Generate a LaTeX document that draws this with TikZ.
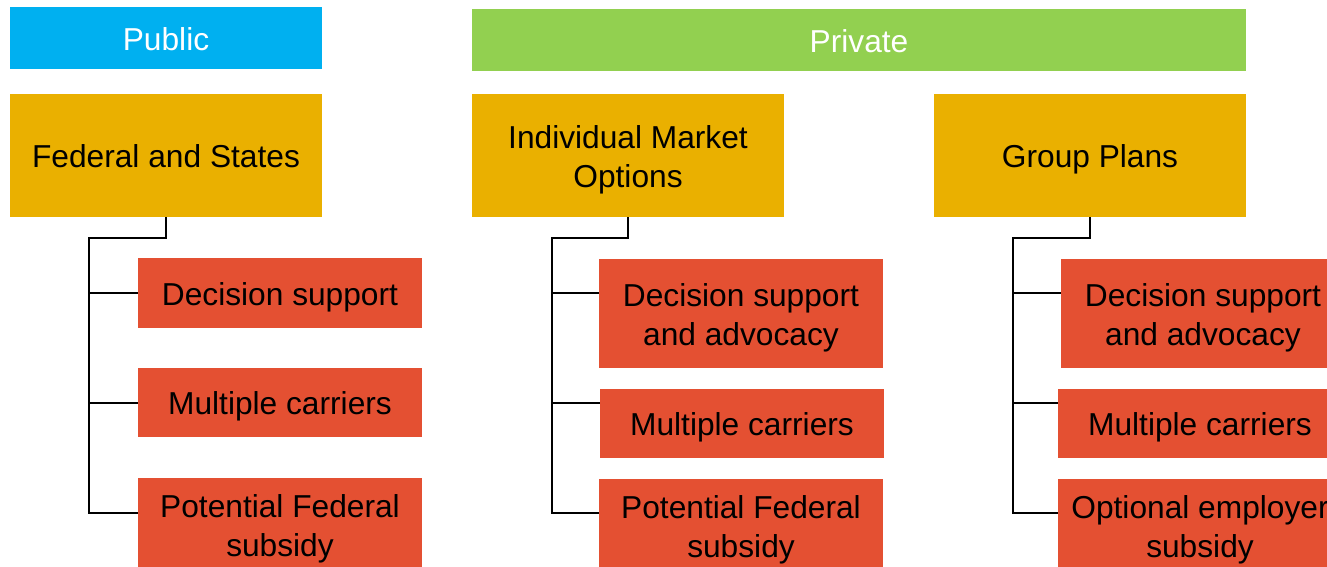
\documentclass[tikz,border=0pt]{standalone}
\usepackage{fontspec}
\setmainfont{Liberation Sans}

\definecolor{pubblue}{HTML}{00B0F0}
\definecolor{privgreen}{HTML}{92D050}
\definecolor{plangold}{HTML}{EAB000}
\definecolor{featred}{HTML}{E45032}

\tikzset{
  box/.style={rectangle, inner sep=0pt, align=flush center,
    font=\fontsize{31.7}{39}\selectfont,
    execute at begin node={\rule{0pt}{31pt}},
    execute at end node={\rule[-7pt]{0pt}{0pt}}},
  head/.style={box, fill=#1, text=white, minimum height=62},
  plan/.style={box, fill=plangold, text width=312, minimum height=123},
  feat/.style={box, fill=featred, text width=284},
  branch/.style={black, line width=2.5pt}
}

\begin{document}
\begin{tikzpicture}[x=1pt, y=-1pt]
        \path[use as bounding box, clip] (0,0) rectangle (1327,566);

        % headers
        \node[head=pubblue, text width=312] (public) at (166,38) {Public};
        \node[head=privgreen, text width=774] (private) at (859,40) {Private};

        % plans
        \node[plan] (fed) at (166,155.5) {Federal and States};
        \node[plan] (ind) at (628,155.5) {Individual Market\\Options};
        \node[plan] (grp) at (1090,155.5) {Group Plans};

        % features
        \node[feat, minimum height=70] (fed1) at (280,293) {Decision support};
        \node[feat, minimum height=69] (fed2) at (280,402.5) {Multiple carriers};
        \node[feat, minimum height=94] (fed3) at (280,525) {Potential Federal\\subsidy};

        \node[feat, minimum height=109] (ind1) at (741,313.5) {Decision support\\and advocacy};
        \node[feat, minimum height=69] (ind2) at (742,423.5) {Multiple carriers};
        \node[feat, minimum height=94] (ind3) at (741,525.5) {Potential Federal\\subsidy};

        \node[feat, minimum height=109] (grp1) at (1203,313.5) {Decision support\\and advocacy};
        \node[feat, minimum height=69] (grp2) at (1200,423.5) {Multiple carriers};
        \node[feat, minimum height=94] (grp3) at (1200,525.5) {Optional employer\\subsidy};

        \foreach \p/\x in {fed/89, ind/552, grp/1013} {
          \draw[branch] (\p.south) |- (\x,238) |- (\p3.west |- 0,513);
          \draw[branch] (\x,293) -- (\p1.west |- 0,293);
          \draw[branch] (\x,403) -- (\p2.west |- 0,403);
        }
      \end{tikzpicture}
\end{document}
